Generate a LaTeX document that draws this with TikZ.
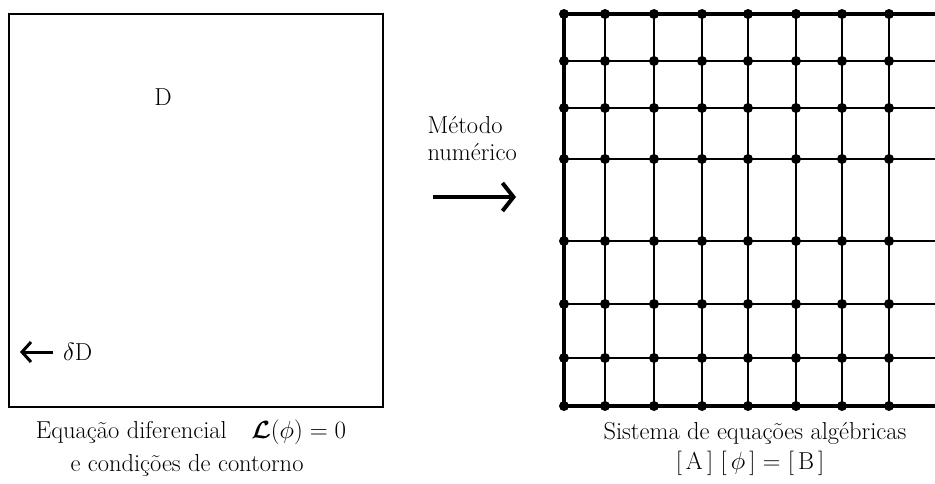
\documentclass[tikz,border=0pt]{standalone}
\usepackage{bm}
\usetikzlibrary{arrows.meta}
\tikzset{
  gridline/.style={line width=1.4pt},
  edgeline/.style={line width=3.2pt},
  gridnode/.style={circle, fill=black, inner sep=0pt, minimum size=10pt},
  label text/.style={font=\fontsize{24.5}{27}\selectfont},
  bigarrow/.style={line width=4pt, -{Straight Barb[length=11pt, width=28pt]}},
  smallarrow/.style={line width=3pt, -{Straight Barb[length=9pt, width=20pt]}},
}
\begin{document}
\begin{tikzpicture}[x=1pt, y=-1pt]
    \useasboundingbox (0,0) rectangle (935,484);
    % continuous domain
    \draw[line width=2pt] (9,14) rectangle (383,407);
    \node[label text] (dom) at (163,97) {D};
    \node[label text, anchor=west, inner sep=2pt] (bnd) at (61,352) {$\delta$D};
    \coordinate (bndtip) at (20,352);
    \draw[smallarrow] (bnd.west) ++(-8,0) -- (bndtip);
    \node[label text] (eqdif) at (191,432) {Equação diferencial\quad $\bm{\mathcal{L}}(\phi) = 0$};
    \node[label text] (cond) at (187,465) {e condições de contorno};
    % numerical method
    \node[label text, align=left, anchor=west] (meth) at (424,139) {Método\\numérico};
    \coordinate (mstart) at (433,197);
    \coordinate (mend) at (516,197);
    \draw[bigarrow] (mstart) -- (mend);
    % discrete mesh
    \foreach \x in {605,654,702,748,796,842,889}
      \draw[gridline] (\x,14) -- (\x,406);
    \foreach \y in {61,108,159,241,304,358}
      \draw[gridline] (564,\y) -- (935,\y);
    \draw[edgeline] (935,14) -- (564,14) -- (564,406) -- (935,406);
    \foreach \x in {564,605,654,702,748,796,842,889}
      \foreach \y in {14,61,108,159,241,304,358,406}
        \node[gridnode] at (\x,\y) {};
    \node[label text] (sist) at (755,433) {Sistema de equações algébricas};
    \node[label text] (mat) at (750,463) {[\,A\,] [\,$\phi$\,] = [\,B\,]};
\end{tikzpicture}
\end{document}
